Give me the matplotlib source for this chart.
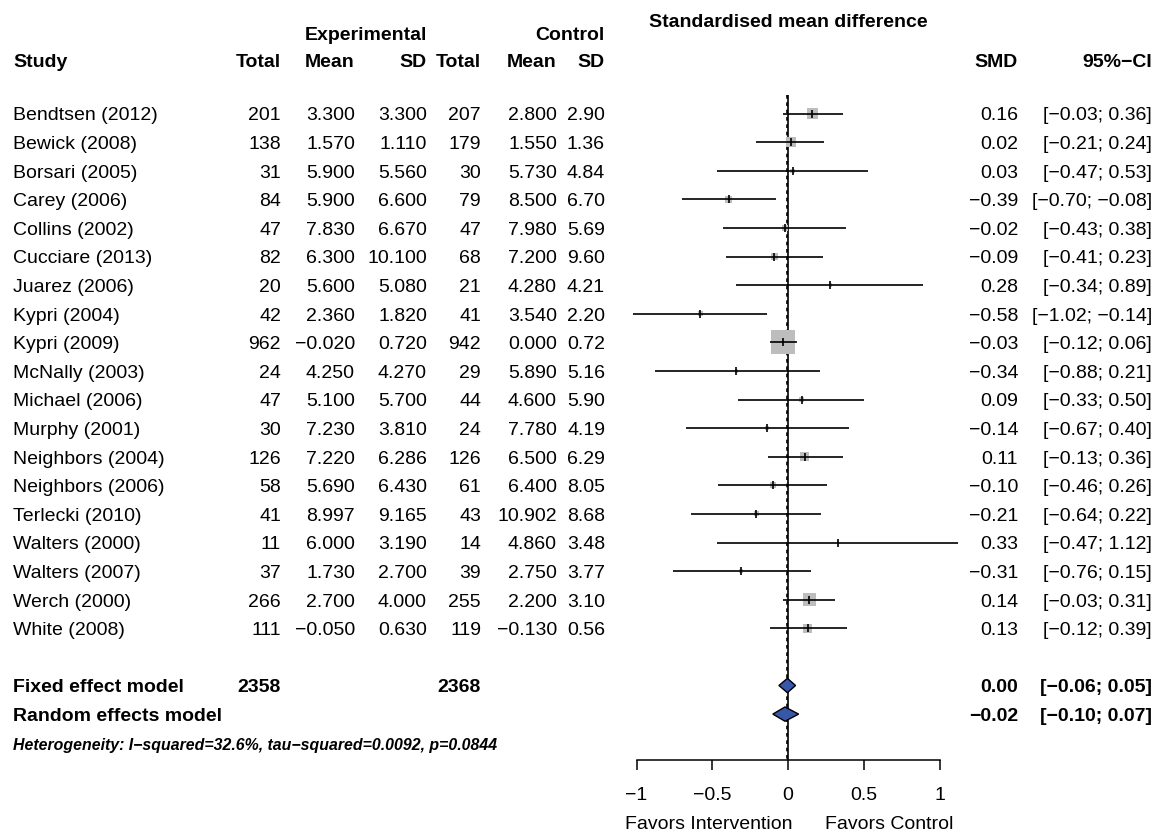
import matplotlib
matplotlib.use("Agg")
import matplotlib.pyplot as plt
import matplotlib.transforms as mtransforms
from matplotlib.patches import Polygon
import numpy as np

plt.rcParams['font.family'] = ['Liberation Sans', 'DejaVu Sans']

# ---- study data -------------------------------------------------------
studies = ["Bendtsen (2012)", "Bewick (2008)", "Borsari (2005)", "Carey (2006)",
           "Collins (2002)", "Cucciare (2013)", "Juarez (2006)", "Kypri (2004)",
           "Kypri (2009)", "McNally (2003)", "Michael (2006)", "Murphy (2001)",
           "Neighbors (2004)", "Neighbors (2006)", "Terlecki (2010)",
           "Walters (2000)", "Walters (2007)", "Werch (2000)", "White (2008)"]
n_exp = [201, 138, 31, 84, 47, 82, 20, 42, 962, 24, 47, 30, 126, 58, 41, 11, 37, 266, 111]
mean_exp = [3.300, 1.570, 5.900, 5.900, 7.830, 6.300, 5.600, 2.360, -0.020, 4.250,
            5.100, 7.230, 7.220, 5.690, 8.997, 6.000, 1.730, 2.700, -0.050]
sd_exp = [3.300, 1.110, 5.560, 6.600, 6.670, 10.100, 5.080, 1.820, 0.720, 4.270,
          5.700, 3.810, 6.286, 6.430, 9.165, 3.190, 2.700, 4.000, 0.630]
n_ctl = [207, 179, 30, 79, 47, 68, 21, 41, 942, 29, 44, 24, 126, 61, 43, 14, 39, 255, 119]
mean_ctl = [2.800, 1.550, 5.730, 8.500, 7.980, 7.200, 4.280, 3.540, 0.000, 5.890,
            4.600, 7.780, 6.500, 6.400, 10.902, 4.860, 2.750, 2.200, -0.130]
sd_ctl = [2.90, 1.36, 4.84, 6.70, 5.69, 9.60, 4.21, 2.20, 0.72, 5.16,
          5.90, 4.19, 6.29, 8.05, 8.68, 3.48, 3.77, 3.10, 0.56]
smd = [0.16, 0.02, 0.03, -0.39, -0.02, -0.09, 0.28, -0.58, -0.03, -0.34,
       0.09, -0.14, 0.11, -0.10, -0.21, 0.33, -0.31, 0.14, 0.13]
ci_low = [-0.03, -0.21, -0.47, -0.70, -0.43, -0.41, -0.34, -1.02, -0.12, -0.88,
          -0.33, -0.67, -0.13, -0.46, -0.64, -0.47, -0.76, -0.03, -0.12]
ci_high = [0.36, 0.24, 0.53, -0.08, 0.38, 0.23, 0.89, -0.14, 0.06, 0.21,
           0.50, 0.40, 0.36, 0.26, 0.22, 1.12, 0.15, 0.31, 0.39]

# ---- pooled estimates -------------------------------------------------
model_names = ["Fixed effect model", "Random effects model"]
model_est = [-0.004, -0.02]
model_low = [-0.06, -0.10]
model_high = [0.05, 0.07]
total_exp = 2358
total_ctl = 2368
heterogeneity = "Heterogeneity: I\u2212squared=32.6%, tau\u2212squared=0.0092, p=0.0844"

x_ticks = [-1, -0.5, 0, 0.5, 1]
x_ticklabels = ["\u22121", "\u22120.5", "0", "0.5", "1"]
label_left = "Favors Intervention"
label_right = "Favors Control"

MINUS = "\u2212"


def fmt(v, d):
    s = f"{v:.{d}f}"
    if float(s) == 0:
        s = s.lstrip("-")
    return s.replace("-", MINUS)


# ---- figure / layout ---------------------------------------------------
W, H = 1156, 834
fig = plt.figure(figsize=(W / 100, H / 100), dpi=100)
fig.patch.set_facecolor("white")

tab = fig.add_axes([0, 0, 1, 1])
tab.set_xlim(0, W)
tab.set_ylim(H, 0)
tab.axis("off")

# forest panel, placed in pixel space
x0_px, px_per_unit = 788.0, 151.5
row0_px, row_h = 113.5, 28.6
left_px, right_px, top_px, bot_px = 600, 1000, 88, 760
ax = fig.add_axes([left_px / W, (H - bot_px) / H, (right_px - left_px) / W, (bot_px - top_px) / H])
ax.set_xlim((left_px - x0_px) / px_per_unit, (right_px - x0_px) / px_per_unit)
ax.set_ylim((bot_px - row0_px) / row_h, (top_px - row0_px) / row_h)
ax.patch.set_alpha(0)
for s in ("top", "left", "right"):
    ax.spines[s].set_visible(False)
ax.spines["bottom"].set_bounds(-1, 1)
ax.spines["bottom"].set_linewidth(1.1)
ax.set_yticks([])
ax.set_xticks(x_ticks)
ax.set_xticklabels(x_ticklabels)
ax.tick_params(axis="x", direction="out", length=7.5, width=1.1, labelsize=14, pad=12)

FS = 14
cap_off = 0.716 * FS / 2
row_tr = mtransforms.blended_transform_factory(tab.transData, ax.transData)
row_tr = mtransforms.offset_copy(row_tr, fig=fig, y=-cap_off, units="points")
hdr_tr = mtransforms.offset_copy(tab.transData, fig=fig, y=-cap_off, units="points")

# column right edges (pixels)
col_study = 13
col_ne, col_me, col_se = 281, 355, 427
col_nc, col_mc, col_sc = 481, 557, 605
col_smd, col_ci = 1018, 1152


def put(x, row, s, ha="right", weight="normal", tr=row_tr, size=FS, style="normal"):
    tab.text(x, row, s, ha=ha, va="baseline", fontsize=size, fontweight=weight,
             fontstyle=style, transform=tr, clip_on=False)


# headers
y_h1, y_h2 = 33, 60
put(col_se, y_h1, "Experimental", weight="bold", tr=hdr_tr)
put(col_sc, y_h1, "Control", weight="bold", tr=hdr_tr)
put(col_study, y_h2, "Study", ha="left", weight="bold", tr=hdr_tr)
for x, s in [(col_ne, "Total"), (col_me, "Mean"), (col_se, "SD"),
             (col_nc, "Total"), (col_mc, "Mean"), (col_sc, "SD"),
             (col_smd, "SMD"), (col_ci, "95%" + MINUS + "CI")]:
    put(x, y_h2, s, weight="bold", tr=hdr_tr)
top_tr = mtransforms.offset_copy(
    mtransforms.blended_transform_factory(ax.transData, tab.transData),
    fig=fig, y=-cap_off, units="points")
tab.text(0, 20, "Standardised mean difference", ha="center", va="baseline",
         fontsize=FS, fontweight="bold", transform=top_tr)

# study rows
for i, name in enumerate(studies):
    put(col_study, i, name, ha="left")
    put(col_ne, i, str(n_exp[i]))
    put(col_me, i, fmt(mean_exp[i], 3))
    put(col_se, i, fmt(sd_exp[i], 3))
    put(col_nc, i, str(n_ctl[i]))
    put(col_mc, i, fmt(mean_ctl[i], 3))
    put(col_sc, i, fmt(sd_ctl[i], 2))
    put(col_smd, i, fmt(smd[i], 2))
    put(col_ci, i, f"[{fmt(ci_low[i], 2)}; {fmt(ci_high[i], 2)}]")

# pooled rows
model_rows = [20, 21]
for r, name, est, lo_, hi_ in zip(model_rows, model_names, model_est, model_low, model_high):
    put(col_study, r, name, ha="left", weight="bold")
    put(col_smd, r, fmt(est, 2), weight="bold")
    put(col_ci, r, f"[{fmt(lo_, 2)}; {fmt(hi_, 2)}]", weight="bold")
put(col_ne, 20, str(total_exp), weight="bold")
put(col_nc, 20, str(total_ctl), weight="bold")

HFS = 11.4
het_tr = mtransforms.offset_copy(tab.transData, fig=fig, y=-0.716 * HFS / 2, units="points")
tab.text(col_study, 744, heterogeneity, ha="left", va="baseline", fontsize=HFS,
         fontweight="bold", fontstyle="italic", transform=het_tr)

# ---- forest marks -------------------------------------------------------
rows = np.arange(len(studies))
lo = np.array(ci_low)
hi = np.array(ci_high)
se = (hi - lo) / (2 * 1.96)
w = 1 / se ** 2
side_px = 24 * np.sqrt(w / w.max())
side_pt = side_px * 72 / 100

ref_top = -0.65
ax.vlines(0, ref_top, ax.get_ylim()[0], color="black", lw=1.2, zorder=1)
ax.vlines(model_est[0], ref_top, ax.get_ylim()[0], color="black", lw=1.2,
          linestyles=(0, (2.2, 2.2)), zorder=1)

ax.scatter(smd, rows, s=side_pt ** 2, marker="s", color="#BDBDBD", linewidths=0, zorder=2)
ax.hlines(rows, lo, hi, color="black", lw=1.2, zorder=3)
ax.scatter(smd, rows, s=40, marker="|", color="black", linewidths=1.2, zorder=4)

half_h = 0.25
for r, est, l, h in zip(model_rows, model_est, model_low, model_high):
    ax.add_patch(Polygon([(l, r), (est, r - half_h), (h, r), (est, r + half_h)],
                         closed=True, facecolor="#3757A8", edgecolor="black",
                         lw=1.0, zorder=5))

lab_tr = mtransforms.offset_copy(
    mtransforms.blended_transform_factory(ax.transData, tab.transData),
    fig=fig, y=-cap_off, units="points")
tab.text(-0.52, 822, label_left, ha="center", va="baseline", fontsize=FS, transform=lab_tr)
tab.text(0.67, 822, label_right, ha="center", va="baseline", fontsize=FS, transform=lab_tr)

fig.savefig("out.png", dpi=100, facecolor="white")
